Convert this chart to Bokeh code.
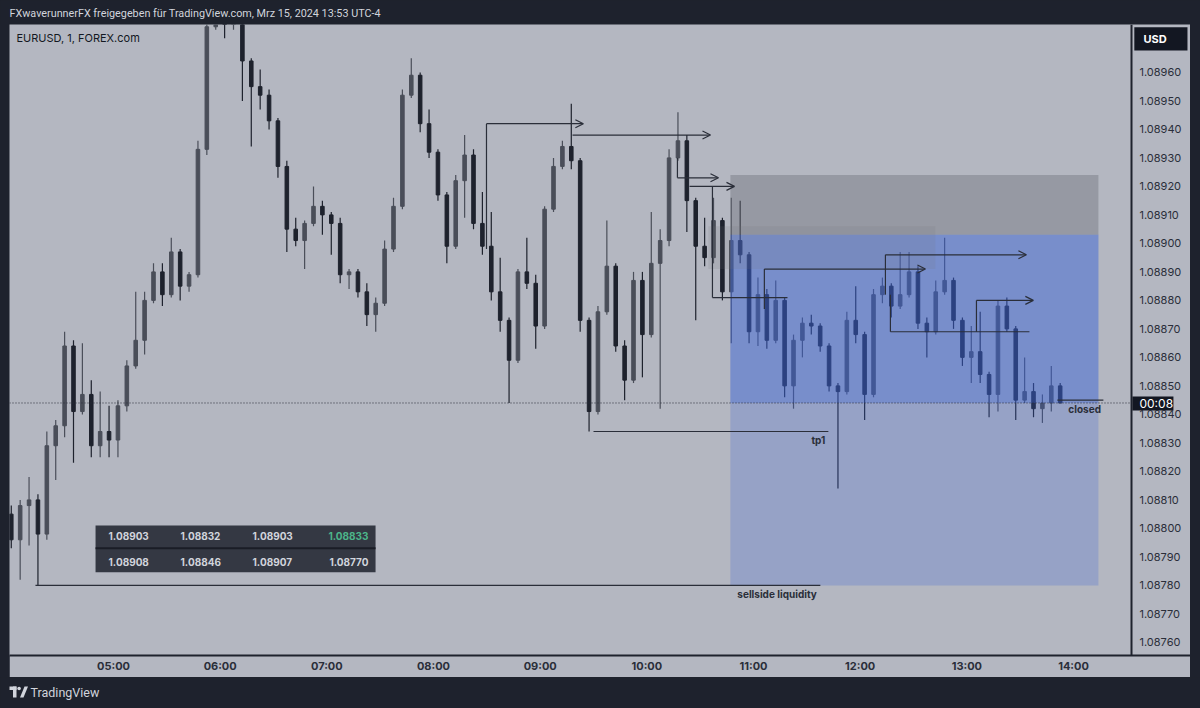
from bokeh.plotting import figure
from bokeh.layouts import column, row
from bokeh.models import (Range1d, FixedTicker, PrintfTickFormatter,
                          ColumnDataSource, Arrow, OpenHead, Spacer)
from bokeh.core.properties import value
from bokeh.embed import file_html
from bokeh.resources import INLINE

# ---------------- data ----------------
header_text = "FXwaverunnerFX freigegeben für TradingView.com, Mrz 15, 2024 13:53 UTC-4"
symbol_text = "EURUSD, 1, FOREX.com"

candle_start_min = 240      # 04:00, minutes since midnight
candle_step_min = 5

opens = [1.08805, 1.08796, 1.08808, 1.08810, 1.08798, 1.08829, 1.08836, 1.08864, 1.08841, 1.08847,
         1.08829, 1.08834, 1.08831, 1.08843, 1.08857, 1.08866, 1.08880, 1.08890, 1.08882, 1.08897,
         1.08885, 1.08889, 1.08933, 1.08976, 1.08982, 1.08978, 1.08987, 1.08964, 1.08955, 1.08952,
         1.08943, 1.08927, 1.08905, 1.08901, 1.08907, 1.08913, 1.08910, 1.08907, 1.08889, 1.08890,
         1.08883, 1.08875, 1.08879, 1.08898, 1.08913, 1.08952, 1.08959, 1.08942, 1.08932, 1.08917,
         1.08899, 1.08922, 1.08931, 1.08907, 1.08899, 1.08883, 1.08873, 1.08859, 1.08890, 1.08886,
         1.08871, 1.08912, 1.08927, 1.08934, 1.08929, 1.08873, 1.08841, 1.08876, 1.08892, 1.08864,
         1.08852, 1.08887, 1.08868, 1.08893, 1.08901, 1.08930, 1.08936, 1.08915, 1.08899, 1.08895,
         1.08908, 1.08883, 1.08901, 1.08896, 1.08869, 1.08882, 1.08866, 1.08880, 1.08850, 1.08866,
         1.08872, 1.08871, 1.08864, 1.08850, 1.08848, 1.08873, 1.08868, 1.08847, 1.08882, 1.08885,
         1.08878, 1.08882, 1.08890, 1.08872, 1.08869, 1.08883, 1.08887, 1.08873, 1.08860, 1.08862,
         1.08854, 1.08847, 1.08878, 1.08870, 1.08845, 1.08848, 1.08842, 1.08844, 1.08850]
highs = [1.08808, 1.08810, 1.08818, 1.08812, 1.08834, 1.08838, 1.08869, 1.08866, 1.08865, 1.08852,
         1.08848, 1.08843, 1.08845, 1.08859, 1.08883, 1.08883, 1.08893, 1.08893, 1.08902, 1.08898,
         1.08890, 1.08936, 1.08980, 1.08990, 1.08987, 1.08992, 1.08989, 1.08965, 1.08961, 1.08954,
         1.08944, 1.08929, 1.08909, 1.08908, 1.08920, 1.08915, 1.08911, 1.08909, 1.08891, 1.08891,
         1.08886, 1.08881, 1.08901, 1.08916, 1.08954, 1.08965, 1.08960, 1.08947, 1.08933, 1.08918,
         1.08924, 1.08938, 1.08933, 1.08918, 1.08911, 1.08895, 1.08874, 1.08891, 1.08902, 1.08889,
         1.08913, 1.08930, 1.08936, 1.08949, 1.08930, 1.08874, 1.08878, 1.08908, 1.08893, 1.08866,
         1.08890, 1.08890, 1.08911, 1.08905, 1.08933, 1.08946, 1.08938, 1.08916, 1.08909, 1.08916,
         1.08909, 1.08916, 1.08915, 1.08897, 1.08888, 1.08884, 1.08887, 1.08881, 1.08868, 1.08874,
         1.08875, 1.08872, 1.08865, 1.08851, 1.08876, 1.08885, 1.08869, 1.08884, 1.08888, 1.08886,
         1.08897, 1.08897, 1.08892, 1.08874, 1.08887, 1.08902, 1.08888, 1.08874, 1.08871, 1.08876,
         1.08855, 1.08880, 1.08881, 1.08871, 1.08860, 1.08851, 1.08847, 1.08857, 1.08851]
lows = [1.08793, 1.08782, 1.08794, 1.08780, 1.08796, 1.08817, 1.08832, 1.08823, 1.08840, 1.08825,
        1.08825, 1.08825, 1.08825, 1.08841, 1.08856, 1.08861, 1.08879, 1.08878, 1.08881, 1.08880,
        1.08883, 1.08888, 1.08931, 1.08975, 1.08972, 1.08975, 1.08950, 1.08934, 1.08947, 1.08940,
        1.08923, 1.08897, 1.08899, 1.08891, 1.08906, 1.08903, 1.08896, 1.08886, 1.08884, 1.08881,
        1.08871, 1.08869, 1.08878, 1.08897, 1.08912, 1.08951, 1.08939, 1.08930, 1.08915, 1.08893,
        1.08898, 1.08909, 1.08905, 1.08896, 1.08880, 1.08869, 1.08844, 1.08858, 1.08884, 1.08863,
        1.08870, 1.08911, 1.08926, 1.08926, 1.08869, 1.08834, 1.08840, 1.08875, 1.08862, 1.08845,
        1.08851, 1.08853, 1.08867, 1.08842, 1.08899, 1.08929, 1.08904, 1.08873, 1.08892, 1.08893,
        1.08880, 1.08865, 1.08893, 1.08865, 1.08864, 1.08863, 1.08865, 1.08846, 1.08842, 1.08860,
        1.08868, 1.08862, 1.08848, 1.08814, 1.08847, 1.08865, 1.08838, 1.08846, 1.08879, 1.08874,
        1.08877, 1.08881, 1.08870, 1.08860, 1.08868, 1.08882, 1.08870, 1.08857, 1.08851, 1.08851,
        1.08839, 1.08841, 1.08869, 1.08838, 1.08844, 1.08839, 1.08837, 1.08841, 1.08844]
closes = [1.08796, 1.08808, 1.08810, 1.08798, 1.08829, 1.08836, 1.08864, 1.08841, 1.08847, 1.08829,
          1.08834, 1.08831, 1.08843, 1.08857, 1.08866, 1.08880, 1.08890, 1.08882, 1.08897, 1.08885,
          1.08889, 1.08933, 1.08976, 1.08982, 1.08978, 1.08987, 1.08964, 1.08955, 1.08952, 1.08943,
          1.08927, 1.08905, 1.08901, 1.08907, 1.08913, 1.08910, 1.08907, 1.08889, 1.08890, 1.08883,
          1.08875, 1.08879, 1.08898, 1.08913, 1.08952, 1.08959, 1.08942, 1.08932, 1.08917, 1.08899,
          1.08922, 1.08931, 1.08907, 1.08899, 1.08883, 1.08873, 1.08859, 1.08890, 1.08886, 1.08871,
          1.08912, 1.08927, 1.08934, 1.08929, 1.08873, 1.08841, 1.08876, 1.08892, 1.08864, 1.08852,
          1.08887, 1.08868, 1.08893, 1.08901, 1.08930, 1.08936, 1.08915, 1.08899, 1.08895, 1.08908,
          1.08883, 1.08901, 1.08896, 1.08869, 1.08882, 1.08866, 1.08880, 1.08850, 1.08866, 1.08872,
          1.08871, 1.08864, 1.08850, 1.08848, 1.08873, 1.08868, 1.08847, 1.08882, 1.08885, 1.08878,
          1.08882, 1.08890, 1.08872, 1.08869, 1.08883, 1.08887, 1.08873, 1.08860, 1.08862, 1.08854,
          1.08847, 1.08878, 1.08870, 1.08845, 1.08848, 1.08842, 1.08844, 1.08850, 1.08844]

price_ticks = [1.08760, 1.08770, 1.08780, 1.08790, 1.08800, 1.08810, 1.08820, 1.08830, 1.08840,
               1.08850, 1.08860, 1.08870, 1.08880, 1.08890, 1.08900, 1.08910, 1.08920, 1.08930,
               1.08940, 1.08950, 1.08960]
time_ticks = [300, 360, 420, 480, 540, 600, 660, 720, 780, 840]
time_labels = ["05:00", "06:00", "07:00", "08:00", "09:00", "10:00", "11:00", "12:00", "13:00", "14:00"]

# short position tool
pos_t0, pos_t1 = 647.0, 854.0
pos_stop, pos_entry, pos_target = 1.08924, 1.08903, 1.08780
current_price = 1.08844
countdown_text = "00:08"
currency_text = "USD"

# drawings: rays with arrow heads
ray_t0 = [509.8, 558.2, 617.2, 624.0, 666.1, 734.2, 785.4]
ray_t1 = [564.3, 635.8, 640.3, 649.3, 756.7, 813.5, 817.4]
ray_price = [1.08942, 1.08938, 1.08923, 1.08920, 1.08891, 1.08896, 1.08880]
# plain horizontal lines
hline_t0 = [636.9, 737.0, 570.0, 256.1, 830.9]
hline_t1 = [679.1, 815.2, 702.1, 697.6, 856.8]
hline_price = [1.08881, 1.08869, 1.08834, 1.08780, 1.08845]
# vertical connectors
vline_t = [509.8, 617.2, 636.9, 666.1, 734.2, 737.0, 785.4]
vline_p0 = [1.08942, 1.08930, 1.08920, 1.08877, 1.08882, 1.08882, 1.08869]
vline_p1 = [1.08898, 1.08923, 1.08881, 1.08891, 1.08896, 1.08869, 1.08880]

table_row1 = ["1.08903", "1.08832", "1.08903", "1.08833"]
table_row2 = ["1.08908", "1.08846", "1.08907", "1.08770"]

# ---------------- styling ----------------
FONT = "Inter"
BG = "#b4b7c1"
DARK = "#1e222d"
INK = "#2a2e39"
UP = "#4a4e59"
DOWN = "#1e222d"
BLUE = "#3a64d8"
BADGE = "#131722"

T_START, T_SCALE, T_END = 241.5, 872.6, 905.8   # chart start, price-scale edge, panel edge

n = len(opens)
t_mid = [candle_start_min + candle_step_min * i + candle_step_min / 2 for i in range(n)]
src = ColumnDataSource(dict(
    t=t_mid, h=highs, l=lows,
    top=[max(o, c) for o, c in zip(opens, closes)],
    bottom=[min(o, c) for o, c in zip(opens, closes)],
    color=[UP if c >= o else DOWN for o, c in zip(opens, closes)],
))

p = figure(width=1181, height=653, x_range=Range1d(T_START, T_END),
           y_range=Range1d(1.087554, 1.089768), output_backend="svg",
           toolbar_location=None, y_axis_location="right",
           min_border_left=0, min_border_right=0, min_border_top=0, min_border_bottom=22,
           background_fill_color=BG, border_fill_color=BG, outline_line_color=None)
p.grid.visible = False

ya = p.yaxis[0]
ya.fixed_location = T_SCALE
ya.ticker = FixedTicker(ticks=price_ticks)
ya.formatter = PrintfTickFormatter(format="%.5f")
ya.major_tick_line_color = None
ya.minor_tick_line_color = None
ya.major_tick_out = 0
ya.major_label_standoff = 8
ya.axis_line_color = DARK
ya.axis_line_width = 2
ya.major_label_text_font = FONT
ya.major_label_text_font_size = "11px"
ya.major_label_text_color = INK

xa = p.xaxis[0]
xa.ticker = FixedTicker(ticks=time_ticks)
xa.major_label_overrides = {t: s for t, s in zip(time_ticks, time_labels)}
xa.major_tick_line_color = None
xa.minor_tick_line_color = None
xa.major_tick_out = 0
xa.major_label_standoff = 3
xa.axis_line_color = DARK
xa.axis_line_width = 2
xa.major_label_text_font = FONT
xa.major_label_text_font_size = "11px"
xa.major_label_text_font_style = "bold"
xa.major_label_text_color = INK

# candles
p.segment(x0="t", y0="h", x1="t", y1="l", line_color="color", line_width=1.2, source=src)
p.vbar(x="t", width=2.0, top="top", bottom="bottom", fill_color="color",
       line_color="color", line_width=1, source=src)

# position tool
p.quad(left=[pos_t0], right=[pos_t1], top=[pos_stop], bottom=[pos_entry],
       fill_color="#6e7079", fill_alpha=0.42, line_color=None)
p.quad(left=[pos_t0], right=[pos_t1], top=[pos_entry], bottom=[pos_target],
       fill_color=BLUE, fill_alpha=0.25, line_color=None)
p.quad(left=[pos_t0], right=[pos_t1], top=[pos_entry], bottom=[current_price],
       fill_color=BLUE, fill_alpha=0.32, line_color=None)
p.quad(left=[634.6], right=[762.3], top=[1.08906], bottom=[1.08891],
       fill_color="#6e7079", fill_alpha=0.14, line_color=None)

# drawings
p.segment(x0=hline_t0, y0=hline_price, x1=hline_t1, y1=hline_price, line_color=INK, line_width=1.2)
p.segment(x0=vline_t, y0=vline_p0, x1=vline_t, y1=vline_p1, line_color=INK, line_width=1.2)
ray_src = ColumnDataSource(dict(x0=ray_t0, x1=ray_t1, y=ray_price))
p.add_layout(Arrow(end=OpenHead(size=8, line_color=INK, line_width=1.2),
                   x_start="x0", y_start="y", x_end="x1", y_end="y",
                   line_color=INK, line_width=1.2, source=ray_src))

# current price line (dotted) up to the price scale
p.segment(x0=[T_START], y0=[current_price], x1=[T_SCALE], y1=[current_price],
          line_color=INK, line_width=1, line_dash="1 2")

# drawing texts
p.text(x=[696.5], y=[1.08831], text=["tp1"], text_font=value(FONT), text_font_size="10px",
       text_font_style="bold", text_color=INK, text_align="center", text_baseline="middle")
p.text(x=[650.9], y=[1.08777], text=["sellside liquidity"], text_font=value(FONT),
       text_font_size="10px", text_font_style="bold", text_color=INK,
       text_align="left", text_baseline="middle")
p.text(x=[837.1], y=[1.08842], text=["closed"], text_font=value(FONT), text_font_size="10px",
       text_font_style="bold", text_color=INK, text_align="left", text_baseline="middle")
p.text(x=[245.4], y=[1.08972], text=[symbol_text], text_font=value(FONT), text_font_size="11px",
       text_color="#131722", text_align="left", text_baseline="middle")

# data window table
p.quad(left=[289.9], right=[447.4], top=[1.08801], bottom=[1.087846],
       fill_color="#30343f", fill_alpha=0.97, line_color=None)
p.segment(x0=[289.9], y0=[1.08793], x1=[447.4], y1=[1.08793], line_color="#1a1d26", line_width=2)
col_x = [297.2, 337.7, 378.2]
p.text(x=col_x, y=[1.087972] * 3, text=table_row1[:3], text_font=value(FONT), text_font_size="10px",
       text_font_style="bold", text_color="#d1d4dc", text_align="left", text_baseline="middle")
p.text(x=col_x, y=[1.087881] * 3, text=table_row2[:3], text_font=value(FONT), text_font_size="10px",
       text_font_style="bold", text_color="#d1d4dc", text_align="left", text_baseline="middle")
p.text(x=[443.4], y=[1.087972], text=[table_row1[3]], text_font=value(FONT), text_font_size="10px",
       text_font_style="bold", text_color="#4cb58a", text_align="right", text_baseline="middle")
p.text(x=[443.4], y=[1.087881], text=[table_row2[3]], text_font=value(FONT), text_font_size="10px",
       text_font_style="bold", text_color="#d1d4dc", text_align="right", text_baseline="middle")

# badges on the price scale
p.quad(left=[874.2], right=[904.1], top=[1.089758], bottom=[1.089677],
       fill_color=BADGE, line_color=None)
p.text(x=[879.3], y=[1.089718], text=[currency_text], text_font=value(FONT), text_font_size="11px",
       text_font_style="bold", text_color="#ffffff", text_align="left", text_baseline="middle")
p.quad(left=[873.1], right=[896.2], top=[1.088463], bottom=[1.088414],
       fill_color=BADGE, line_color=None)
p.text(x=[877.1], y=[1.088439], text=[countdown_text], text_font=value(FONT), text_font_size="12px",
       text_color="#ffffff", text_align="left", text_baseline="middle")

# header bar
hdr = figure(width=1200, height=24, x_range=Range1d(0, 1200), y_range=Range1d(24, 0),
             output_backend="svg", toolbar_location=None, x_axis_type=None, y_axis_type=None,
             min_border=0, background_fill_color=DARK, border_fill_color=DARK,
             outline_line_color=None)
hdr.text(x=[9], y=[12.5], text=[header_text], text_font=value("Roboto"), text_font_size="10.8px",
         text_color="#d1d4dc", text_align="left", text_baseline="middle")

# footer bar
ftr = figure(width=1200, height=31, x_range=Range1d(0, 1200), y_range=Range1d(31, 0),
             output_backend="svg", toolbar_location=None, x_axis_type=None, y_axis_type=None,
             min_border=0, background_fill_color=DARK, border_fill_color=DARK,
             outline_line_color=None)
ftr.quad(left=[9, 12.5], right=[16, 16], top=[9, 9], bottom=[12.5, 20], fill_color="#d1d4dc",
         line_color=None)
ftr.circle(x=[18.6], y=[11], radius=1.8, fill_color="#d1d4dc", line_color=None)
ftr.patch(x=[19.5, 23, 27.5, 24], y=[20, 20, 9, 9], fill_color="#d1d4dc", line_color=None)
ftr.text(x=[30], y=[15], text=["TradingView"], text_font=value("Roboto"), text_font_size="12.5px",
         text_color="#d1d4dc", text_align="left", text_baseline="middle")

layout = column(hdr, row(Spacer(width=9, height=653), p, spacing=0), ftr, spacing=0)
html = file_html(layout, INLINE, title="EURUSD")
html = html.replace("<head>", "<head><style>html,body{background:#1e222d;}</style>", 1)
open("out.html", "w").write(html)
